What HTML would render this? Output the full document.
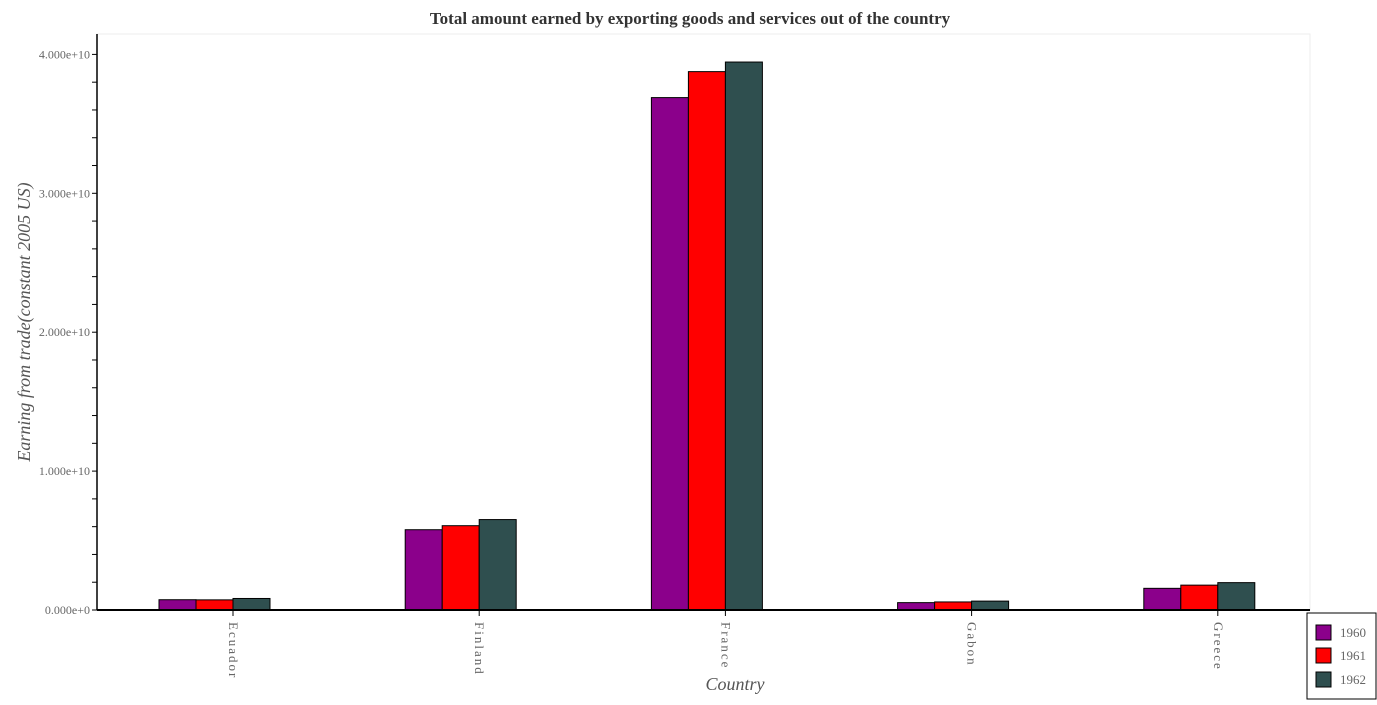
<!DOCTYPE html>
<html><head><meta charset="utf-8"><style>
body{margin:0;background:#fff;}
svg text{font-family:"Liberation Serif",serif;}
</style></head><body>
<svg id="c" width="1377" height="700" xmlns="http://www.w3.org/2000/svg">
<text x="690" y="24" text-anchor="middle" font-size="17" font-weight="bold" fill="#333">Total amount earned by exporting goods and services out of the country</text>
<rect x="97" y="34" width="1213" height="576" fill="#fff" stroke="#eee"/>
<text transform="translate(30,322) rotate(-90)" text-anchor="middle" font-size="18" font-style="italic" fill="#555">Earning from trade(constant 2005 US)</text>
<text x="735" y="690" text-anchor="middle" font-size="18" font-style="italic" fill="#555">Country</text>
<g id="bars"></g><g id="axes"></g>
<g>
<rect x="1307" y="613" width="69" height="86" fill="#fff" stroke="#000"/>
<rect x="1316" y="625" width="15" height="15" fill="#8b008b" stroke="#000"/>
<text x="1340" y="637" font-size="13" fill="#666">1960</text>
<rect x="1316" y="648" width="15" height="15" fill="#ff0000" stroke="#000"/>
<text x="1340" y="660" font-size="13" fill="#666">1961</text>
<rect x="1316" y="672" width="15" height="15" fill="#2f4f4f" stroke="#000"/>
<text x="1340" y="684" font-size="13" fill="#666">1962</text>
</g>
</svg>
<script>
const categories=["Ecuador","Finland","France","Gabon","Greece"];
const s1960=[0.74e9,5.78e9,36.89e9,0.53e9,1.56e9];
const s1961=[0.73e9,6.07e9,38.76e9,0.58e9,1.79e9];
const s1962=[0.83e9,6.51e9,39.45e9,0.64e9,1.97e9];
const yTicks=[0,1e10,2e10,3e10,4e10];
const yTickLabels=["0.000e+0","1.000e+10","2.000e+10","3.000e+10","4.000e+10"];
const colors=["#8b008b","#ff0000","#2f4f4f"];
const NS="http://www.w3.org/2000/svg";
const y=v=>610-v/1e10*138.9;
const x=i=>233+i*246.2;
const bars=document.getElementById('bars'),axes=document.getElementById('axes');
function mk(t,a,p){const e=document.createElementNS(NS,t);for(const k in a)e.setAttribute(k,a[k]);p.appendChild(e);return e;}
[s1960,s1961,s1962].forEach((s,j)=>{s.forEach((v,i)=>{
 const r=mk('rect',{x:x(i)-74+j*37,y:y(v),width:37,height:610-y(v),fill:colors[j],stroke:'#000','stroke-width':1},bars);
 
 
});});
mk('line',{x1:97,y1:610,x2:1310,y2:610,stroke:'#000','stroke-width':2},axes);
mk('line',{x1:97,y1:34,x2:97,y2:610,stroke:'#000','stroke-width':1.5},axes);
for(let v=0;v<=4e10;v+=2e9){mk('line',{x1:92,y1:y(v),x2:97,y2:y(v),stroke:'#000'},axes);}
yTicks.forEach((v,i)=>{const t=mk('text',{x:90,y:y(v)+4,'text-anchor':'end','font-size':12,fill:'#666'},axes);t.textContent=yTickLabels[i];
 
 });
categories.forEach((c,i)=>{mk('line',{x1:x(i),y1:610,x2:x(i),y2:616,stroke:'#000'},axes);
 const t=mk('text',{transform:`translate(${x(i)-4},622) rotate(90)`,'font-size':13,fill:'#666','letter-spacing':'2'},axes);t.textContent=c;
 
 });
</script>
</body></html>
